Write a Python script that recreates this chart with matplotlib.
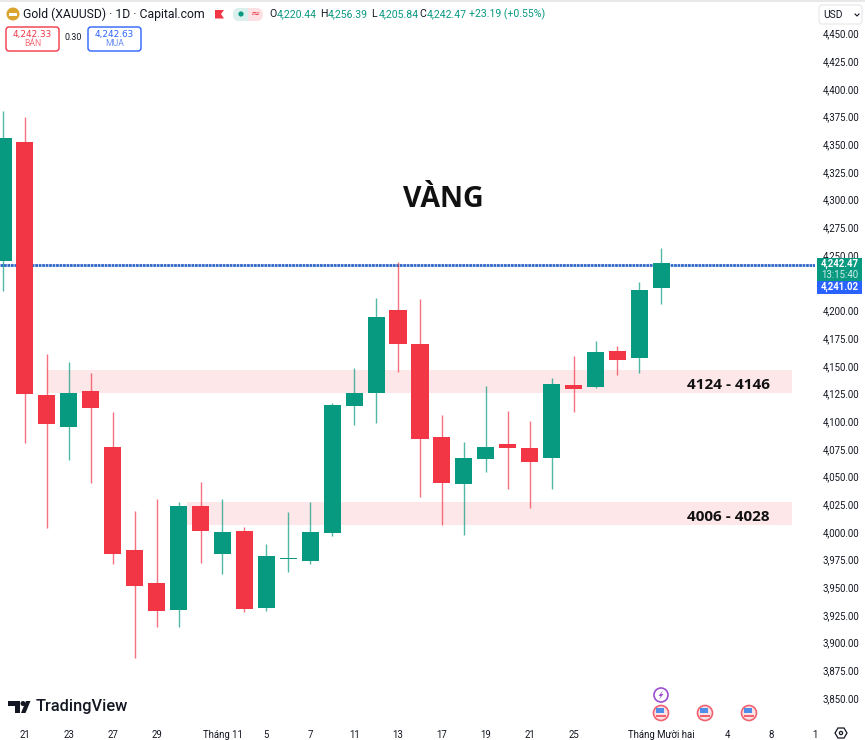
import matplotlib
matplotlib.use('Agg')
import matplotlib.pyplot as plt
from matplotlib.patches import Circle, FancyBboxPatch, Polygon, Rectangle

plt.rcParams['font.family'] = ['Roboto', 'DejaVu Sans']

# daily bars
opens = [4244.6, 4352.0, 4123.6, 4094.7, 4127.2, 4076.6, 3983.6, 3953.9, 3929.5, 4023.4, 3980.0,
         4000.8, 3931.3, 3975.5, 3973.7, 3999.0, 4113.7, 4125.4, 4200.3, 4169.6, 4085.7, 4043.2,
         4065.8, 4079.4, 4075.7, 4066.7, 4132.6, 4130.8, 4163.3, 4157.0, 4220.44]
highs = [4380.3, 4374.6, 4160.6, 4153.4, 4143.5, 4108.2, 4018.9, 4029.7, 4027.0, 4045.0, 4029.7,
         4004.4, 3989.0, 4018.0, 4027.0, 4116.4, 4148.0, 4211.2, 4243.7, 4210.3, 4105.5, 4081.2,
         4131.7, 4109.1, 4100.0, 4138.9, 4158.8, 4172.4, 4167.8, 4225.6, 4256.39]
lows = [4217.8, 4080.3, 4003.5, 4064.9, 4044.1, 3971.0, 3886.1, 3914.1, 3914.1, 3971.9, 3962.0,
        3927.7, 3928.6, 3963.8, 3971.0, 3996.3, 4096.5, 4098.3, 4144.4, 4031.5, 4006.2, 3997.2,
        4054.0, 4038.7, 4021.6, 4038.7, 4108.2, 4130.0, 4141.6, 4143.5, 4205.84]
closes = [4355.6, 4124.5, 4097.4, 4125.4, 4111.9, 3980.0, 3951.1, 3928.6, 4023.4, 4000.8, 4000.0,
          3930.4, 3978.2, 3976.0, 4000.0, 4114.6, 4125.4, 4194.0, 4169.6, 4083.9, 4044.1, 4066.7,
          4076.6, 4075.7, 4063.1, 4133.5, 4129.0, 4162.4, 4155.2, 4218.4, 4242.47]

# 4,225 is hidden behind the price tags in the original
price_ticks = [p for p in range(3850, 4451, 25) if p != 4225]
date_pos = [1, 3, 5, 7, 10, 12, 14, 16, 18, 20, 22, 24, 26, 30, 33, 35, 37]
date_labels = ['21', '23', '27', '29', 'Tháng 11', '5', '7', '11', '13', '17', '19', '21', '25',
               'Tháng Mười hai', '4', '8', '1']

zones = [(4125, 4146, '4124 - 4146', 2.0), (4006, 4027, '4006 - 4028', 8.4)]
last_price = 4240.6

UP = '#089981'
DOWN = '#f23645'
TEXT = '#131722'

fig = plt.figure(figsize=(8.65, 7.4), dpi=100)
ax = fig.add_axes([0, 1 - 722 / 740, 815 / 865, 722 / 740])
ax.set_xlim(-0.136, 36.91)
ax.set_ylim(3828.3, 4480.2)

for lo, hi, txt, start in zones:
    ax.fill_between([start, 35.95], lo, hi, color='#fde7e9', lw=0, zorder=1)
    ax.text(33.05, (lo + hi) / 2 - 3, txt, fontsize=11, fontweight='bold', family=['Open Sans'],
            ha='center', va='center', color='#111111', zorder=6)

ax.axhline(last_price, color='#2f66c8', lw=2, ls=(0, (1, 0.25)), zorder=1.5)

for i in range(len(opens)):
    col = UP if closes[i] >= opens[i] else DOWN
    ax.vlines(i, lows[i], highs[i], color=col, lw=1, alpha=0.7, zorder=2)
    bottom = min(opens[i], closes[i])
    height = max(abs(closes[i] - opens[i]), 0.6)
    ax.bar(i, height, bottom=bottom, width=0.78, color=col, lw=0, zorder=3)

ax.text(20.05, 4300, 'VÀNG', fontsize=20.5, fontweight='bold', family=['Open Sans'], ha='center',
        va='center', color='#111111')

ax.yaxis.tick_right()
ax.set_yticks(price_ticks)
ax.set_yticklabels(['{:,.2f}'.format(p) for p in price_ticks], fontsize=6.9, color=TEXT)
ax.set_xticks(date_pos)
ax.set_xticklabels(date_labels, fontsize=6.9, color=TEXT)
ax.tick_params(axis='both', length=0)
ax.tick_params(axis='y', pad=5.5)
ax.tick_params(axis='x', pad=6)
for s in ax.spines.values():
    s.set_visible(False)

# chart furniture on a pixel overlay
ui = fig.add_axes([0, 0, 1, 1], zorder=10)
ui.set_xlim(0, 865)
ui.set_ylim(740, 0)
ui.axis('off')

ui.add_patch(Rectangle((0, 0), 865, 2, color='#e8e8e8', lw=0))
ui.add_patch(Circle((13, 14), 6.5, color='#d9a32e', lw=0))
ui.add_patch(Rectangle((9, 13), 8, 2.5, color='white', lw=0))
ui.text(23, 14, 'Gold (XAUUSD) · 1D · Capital.com', fontsize=8.8, color=TEXT, va='center')
ui.add_patch(Polygon([(215, 10), (224, 10), (221, 14), (224, 18.5), (215, 18.5)], color=DOWN, lw=0))
ui.add_patch(FancyBboxPatch((233, 8), 30, 13, boxstyle='round,pad=0,rounding_size=6.5', color='#fde0e3', lw=0))
ui.add_patch(FancyBboxPatch((233, 8), 15, 13, boxstyle='round,pad=0,rounding_size=6.5', color='#d9f0ec', lw=0))
ui.add_patch(Rectangle((242, 8), 6, 13, color='#d9f0ec', lw=0))
ui.add_patch(Circle((241, 14), 2.6, color=UP, lw=0))
ui.text(255, 14, '≈', fontsize=8, color=DOWN, va='center', ha='center', family=['DejaVu Sans'])

for head, val, x in [('O', '4,220.44', 269), ('H', '4,256.39', 320), ('L', '4,205.84', 371), ('C', '4,242.47', 419)]:
    ui.text(x, 14, head, fontsize=7.6, color=TEXT, va='center')
    ui.text(x + 8, 14, val, fontsize=7.6, color=UP, va='center')
ui.text(469, 14, '+23.19 (+0.55%)', fontsize=7.6, color=UP, va='center')

ui.add_patch(FancyBboxPatch((6, 27), 53, 24, boxstyle='round,pad=0,rounding_size=3', fc='white', ec=DOWN, lw=1))
ui.text(32.5, 34, '4,242.33', fontsize=6.4, color=DOWN, ha='center', va='center', family=['DejaVu Sans'])
ui.text(32.5, 44, 'BÁN', fontsize=6.2, color='#f7707b', ha='center', va='center')
ui.text(73.5, 38, '0.30', fontsize=6.4, color=TEXT, ha='center', va='center')
ui.add_patch(FancyBboxPatch((88, 27), 53, 24, boxstyle='round,pad=0,rounding_size=3', fc='white', ec='#2962ff', lw=1))
ui.text(114.5, 34, '4,242.63', fontsize=6.4, color='#2962ff', ha='center', va='center', family=['DejaVu Sans'])
ui.text(114.5, 44, 'MUA', fontsize=6.2, color='#6f92f5', ha='center', va='center')

ui.add_patch(FancyBboxPatch((819, 5), 43, 19, boxstyle='round,pad=0,rounding_size=3', fc='white', ec='#e6e6e6', lw=0.8))
ui.text(823, 14.5, 'USD', fontsize=7.4, color=TEXT, va='center')
ui.plot([855, 857, 859], [14, 16, 14], color=TEXT, lw=0.8)

# last price tags
ui.add_patch(Rectangle((817, 258), 45, 23, color=UP, lw=0))
ui.text(839.5, 264, '4,242.47', fontsize=6.9, color='white', ha='center', va='center', fontweight='bold')
ui.text(839.5, 274.5, '13:15:40', fontsize=6.9, color='#cdeee7', ha='center', va='center')
ui.add_patch(Rectangle((817, 281), 45, 12.5, color='#2962ff', lw=0))
ui.text(839.5, 287.3, '4,241.02', fontsize=6.9, color='white', ha='center', va='center', fontweight='bold')

# logo
ui.add_patch(Polygon([(8, 701), (20, 701), (20, 713), (14.5, 713), (14.5, 706), (8, 706)], color='#131722', lw=0))
ui.add_patch(Circle((23, 703.5), 2.5, color='#131722', lw=0))
ui.add_patch(Polygon([(26, 701), (30.5, 701), (25.5, 713), (21, 713)], color='#131722', lw=0))
ui.text(35.5, 707, 'TradingView', fontsize=11.8, color='#131722', va='center', fontweight='medium')

# event markers
ui.add_patch(Circle((661, 695), 7, fc='white', ec='#9c4fd0', lw=1.2))
ui.add_patch(Polygon([(663, 690.5), (658.5, 696), (660.7, 696), (659, 699.5), (663.5, 694), (661.3, 694)],
                     color='#9c4fd0', lw=0))
for fx in [661, 705, 749]:
    ui.add_patch(Circle((fx, 713), 7.5, fc='#fbe3e5', ec='#f2616f', lw=1.2))
    ui.add_patch(Rectangle((fx - 5.5, 707.5), 8, 5.5, color='#4f8de8', lw=0))
    ui.add_patch(Rectangle((fx - 5, 715), 10, 1.6, color='#f2616f', lw=0))

# settings gear
ui.add_patch(Polygon([(835, 733), (838, 728), (844, 728), (847, 733), (844, 738), (838, 738)],
                     fc='white', ec=TEXT, lw=0.9))
ui.add_patch(Circle((841, 733), 1.6, fc='white', ec=TEXT, lw=0.9))

fig.savefig('out.png', dpi=100)
